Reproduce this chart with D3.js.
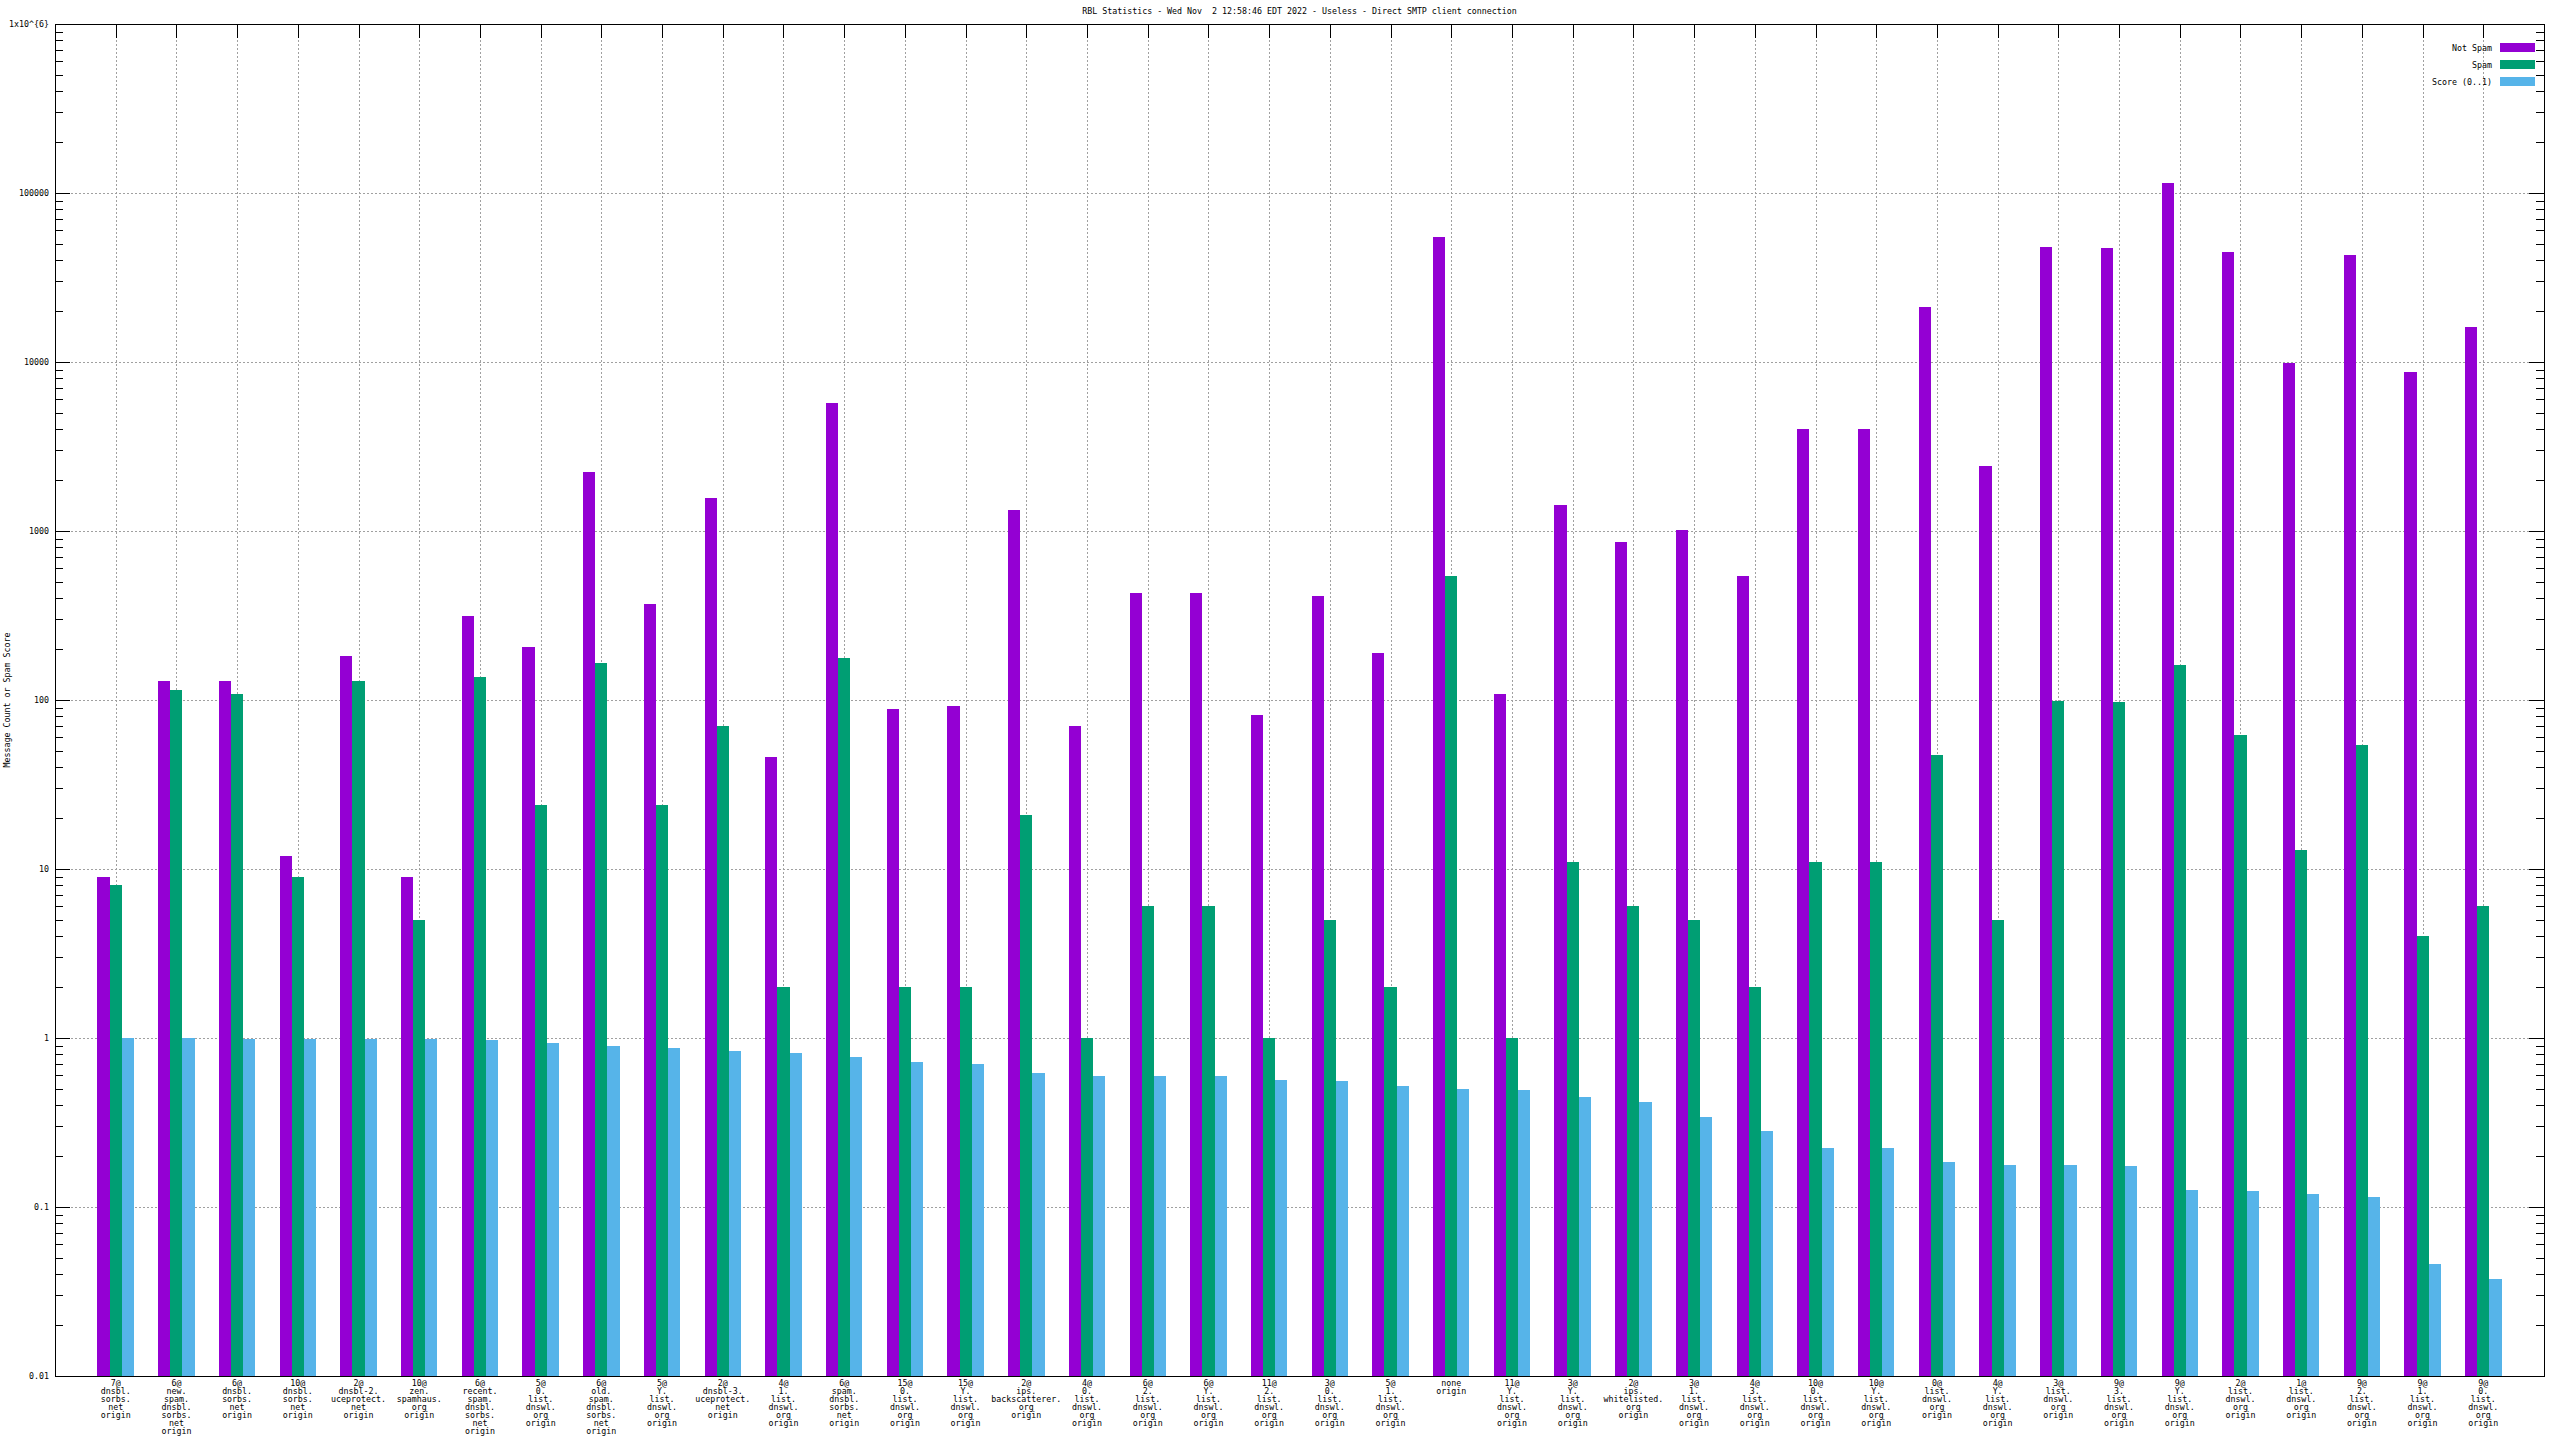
<!DOCTYPE html>
<html>
<head>
<meta charset="utf-8">
<script src="https://cdnjs.cloudflare.com/ajax/libs/d3/7.8.5/d3.min.js"></script>
<style>
  html, body { margin: 0; padding: 0; background: #fff; }
  svg { display: block; }
  text { font-family: "DejaVu Sans Mono", "Liberation Mono", monospace; font-size: 8.3px; fill: #000; white-space: pre; }
</style>
</head>
<body>
<script>
// ---------- DATA ----------
const title = "RBL Statistics - Wed Nov  2 12:58:46 EDT 2022 - Useless - Direct SMTP client connection";
const yLabel = "Message Count or Spam Score";
const seriesNames = ["Not Spam", "Spam", "Score (0..1)"];
const seriesColors = ["#9400d3", "#009e73", "#56b4e9"];

const categories = [
  "7@dnsbl.sorbs.net", "6@new.spam.dnsbl.sorbs.net", "6@dnsbl.sorbs.net", "10@dnsbl.sorbs.net",
  "2@dnsbl-2.uceprotect.net", "10@zen.spamhaus.org", "6@recent.spam.dnsbl.sorbs.net", "5@0.list.dnswl.org",
  "6@old.spam.dnsbl.sorbs.net", "5@Y.list.dnswl.org", "2@dnsbl-3.uceprotect.net", "4@1.list.dnswl.org",
  "6@spam.dnsbl.sorbs.net", "15@0.list.dnswl.org", "15@Y.list.dnswl.org", "2@ips.backscatterer.org",
  "4@0.list.dnswl.org", "6@2.list.dnswl.org", "6@Y.list.dnswl.org", "11@2.list.dnswl.org",
  "3@0.list.dnswl.org", "5@1.list.dnswl.org", "none", "11@Y.list.dnswl.org",
  "3@Y.list.dnswl.org", "2@ips.whitelisted.org", "3@1.list.dnswl.org", "4@3.list.dnswl.org",
  "10@0.list.dnswl.org", "10@Y.list.dnswl.org", "0@list.dnswl.org", "4@Y.list.dnswl.org",
  "3@list.dnswl.org", "9@3.list.dnswl.org", "9@Y.list.dnswl.org", "2@list.dnswl.org",
  "1@list.dnswl.org", "9@2.list.dnswl.org", "9@1.list.dnswl.org", "9@0.list.dnswl.org"
];

const notSpam = [9, 130, 130, 12, 181, 9, 316, 207, 2240, 370, 1570, 46, 5690, 89, 92, 1340, 70, 432, 432, 81,
  413, 190, 54900, 109, 1430, 860, 1010, 540, 3990, 3990, 21100, 2440, 48000, 47000, 114000, 45000, 9900, 43000, 8700, 16200];
const spam = [8, 114, 109, 9, 130, 5, 136, 24, 166, 24, 70, 2, 177, 2, 2, 21, 1, 6, 6, 1,
  5, 2, 540, 1, 11, 6, 5, 2, 11, 11, 47, 5, 98, 97, 162, 62, 13, 54, 4, 6];
const score = [1.0, 1.0, 0.99, 0.99, 0.99, 0.98, 0.97, 0.93, 0.9, 0.875, 0.84, 0.82, 0.77, 0.72, 0.7, 0.621, 0.597, 0.597, 0.597, 0.565,
  0.557, 0.521, 0.5, 0.493, 0.448, 0.419, 0.342, 0.282, 0.224, 0.224, 0.185, 0.178, 0.178, 0.175, 0.1265, 0.1248, 0.12, 0.115, 0.0463, 0.0374];

const yTickValues = [0.01, 0.1, 1, 10, 100, 1000, 10000, 100000, 1000000];
const yTickLabels = ["0.01", "0.1", "1", "10", "100", "1000", "10000", "100000", "1x10^{6}"];

// ---------- LAYOUT ----------
const W = 2560, H = 1440;
const L = 55, R = 2544, T = 24, B = 1376;
const svg = d3.select("body").append("svg").attr("width", W).attr("height", H);

const x = d3.scaleLinear().domain([-1, categories.length]).range([L, R]);
const y = d3.scaleLog().domain([0.01, 1e6]).range([B, T]);
const series = [notSpam, spam, score];
const barW = 0.2;
const offsets = [-0.2, 0, 0.2];

// minor tick values
const minorVals = [];
for (let e = -2; e < 6; e++) for (let m = 2; m <= 9; m++) minorVals.push(m * Math.pow(10, e));

// ---------- GRID ----------
const grid = svg.append("g").attr("stroke", "#a0a0a0").attr("stroke-width", 1)
  .attr("stroke-dasharray", "2,2").attr("shape-rendering", "crispEdges");
grid.selectAll("line.h").data(yTickValues.slice(1, -1)).join("line")
  .attr("x1", L).attr("x2", R).attr("y1", d => Math.round(y(d)) + 0.5).attr("y2", d => Math.round(y(d)) + 0.5);
grid.selectAll("line.v").data(d3.range(categories.length)).join("line")
  .attr("y1", T).attr("y2", B).attr("x1", d => Math.round(x(d)) + 0.5).attr("x2", d => Math.round(x(d)) + 0.5);

// ---------- AXES (ticks) ----------
function styleAxis(g) {
  g.select(".domain").remove();
  g.selectAll("line").attr("stroke", "#000").attr("shape-rendering", "crispEdges");
  g.selectAll("text").style("font-family", "DejaVu Sans Mono, monospace").style("font-size", "8.3px").attr("fill", "#000");
}
// left major with labels
svg.append("g").attr("transform", `translate(${L},0)`)
  .call(d3.axisLeft(y).tickValues(yTickValues).tickSizeInner(-15).tickSizeOuter(0).tickPadding(6)
    .tickFormat((d, i) => yTickLabels[i]))
  .call(styleAxis);
// left minor
svg.append("g").attr("transform", `translate(${L},0)`)
  .call(d3.axisLeft(y).tickValues(minorVals).tickSizeInner(-8).tickSizeOuter(0).tickFormat(""))
  .call(styleAxis);
// right major/minor (mirror)
svg.append("g").attr("transform", `translate(${R},0)`)
  .call(d3.axisLeft(y).tickValues(yTickValues).tickSizeInner(15).tickSizeOuter(0).tickFormat(""))
  .call(styleAxis);
svg.append("g").attr("transform", `translate(${R},0)`)
  .call(d3.axisLeft(y).tickValues(minorVals).tickSizeInner(8).tickSizeOuter(0).tickFormat(""))
  .call(styleAxis);
// top mirror ticks
svg.append("g").attr("transform", `translate(0,${T})`)
  .call(d3.axisTop(x).tickValues(d3.range(categories.length)).tickSizeInner(-14).tickSizeOuter(0).tickFormat(""))
  .call(styleAxis);
// bottom ticks
svg.append("g").attr("transform", `translate(0,${B})`)
  .call(d3.axisBottom(x).tickValues(d3.range(categories.length)).tickSizeInner(-14).tickSizeOuter(0).tickFormat(""))
  .call(styleAxis);

// ---------- BARS ----------
series.forEach((vals, s) => {
  svg.append("g").attr("fill", seriesColors[s]).attr("shape-rendering", "crispEdges")
    .selectAll("rect").data(vals).join("rect")
    .attr("x", (d, i) => x(i + offsets[s] - barW / 2))
    .attr("width", x(barW) - x(0))
    .attr("y", d => y(d))
    .attr("height", d => y(0.01) - y(d));
});

// ---------- BORDER ----------
svg.append("rect").attr("x", L + 0.5).attr("y", T + 0.5).attr("width", R - L).attr("height", B - T)
  .attr("fill", "none").attr("stroke", "#000").attr("stroke-width", 1).attr("shape-rendering", "crispEdges");

// ---------- X LABELS ----------
function splitLabel(c) {
  if (c === "none") return ["none", "origin"];
  const at = c.indexOf("@");
  const lines = [c.slice(0, at + 1)];
  const rest = c.slice(at + 1).split(".");
  rest.forEach((p, i) => lines.push(i < rest.length - 1 ? p + "." : p));
  lines.push("origin");
  return lines;
}
const xl = svg.append("g");
categories.forEach((c, i) => {
  const t = xl.append("text").attr("text-anchor", "middle").attr("x", x(i)).attr("y", B + 10);
  splitLabel(c).forEach((ln, k) => {
    t.append("tspan").attr("x", x(i)).attr("dy", k === 0 ? 0 : 8).text(ln);
  });
});

// ---------- TITLE / Y LABEL ----------
svg.append("text").attr("x", (L + R) / 2).attr("y", 14).attr("text-anchor", "middle").text(title);
svg.append("text").attr("transform", `translate(10,${(T + B) / 2}) rotate(-90)`).attr("text-anchor", "middle").text(yLabel);

// ---------- LEGEND ----------
const lg = svg.append("g");
seriesNames.forEach((n, i) => {
  const cy = 47.5 + i * 17;
  lg.append("text").attr("x", 2492).attr("y", cy + 3).attr("text-anchor", "end").text(n);
  lg.append("rect").attr("x", 2500).attr("y", cy - 4.5).attr("width", 35).attr("height", 9).attr("fill", seriesColors[i]);
});
</script>
</body>
</html>
